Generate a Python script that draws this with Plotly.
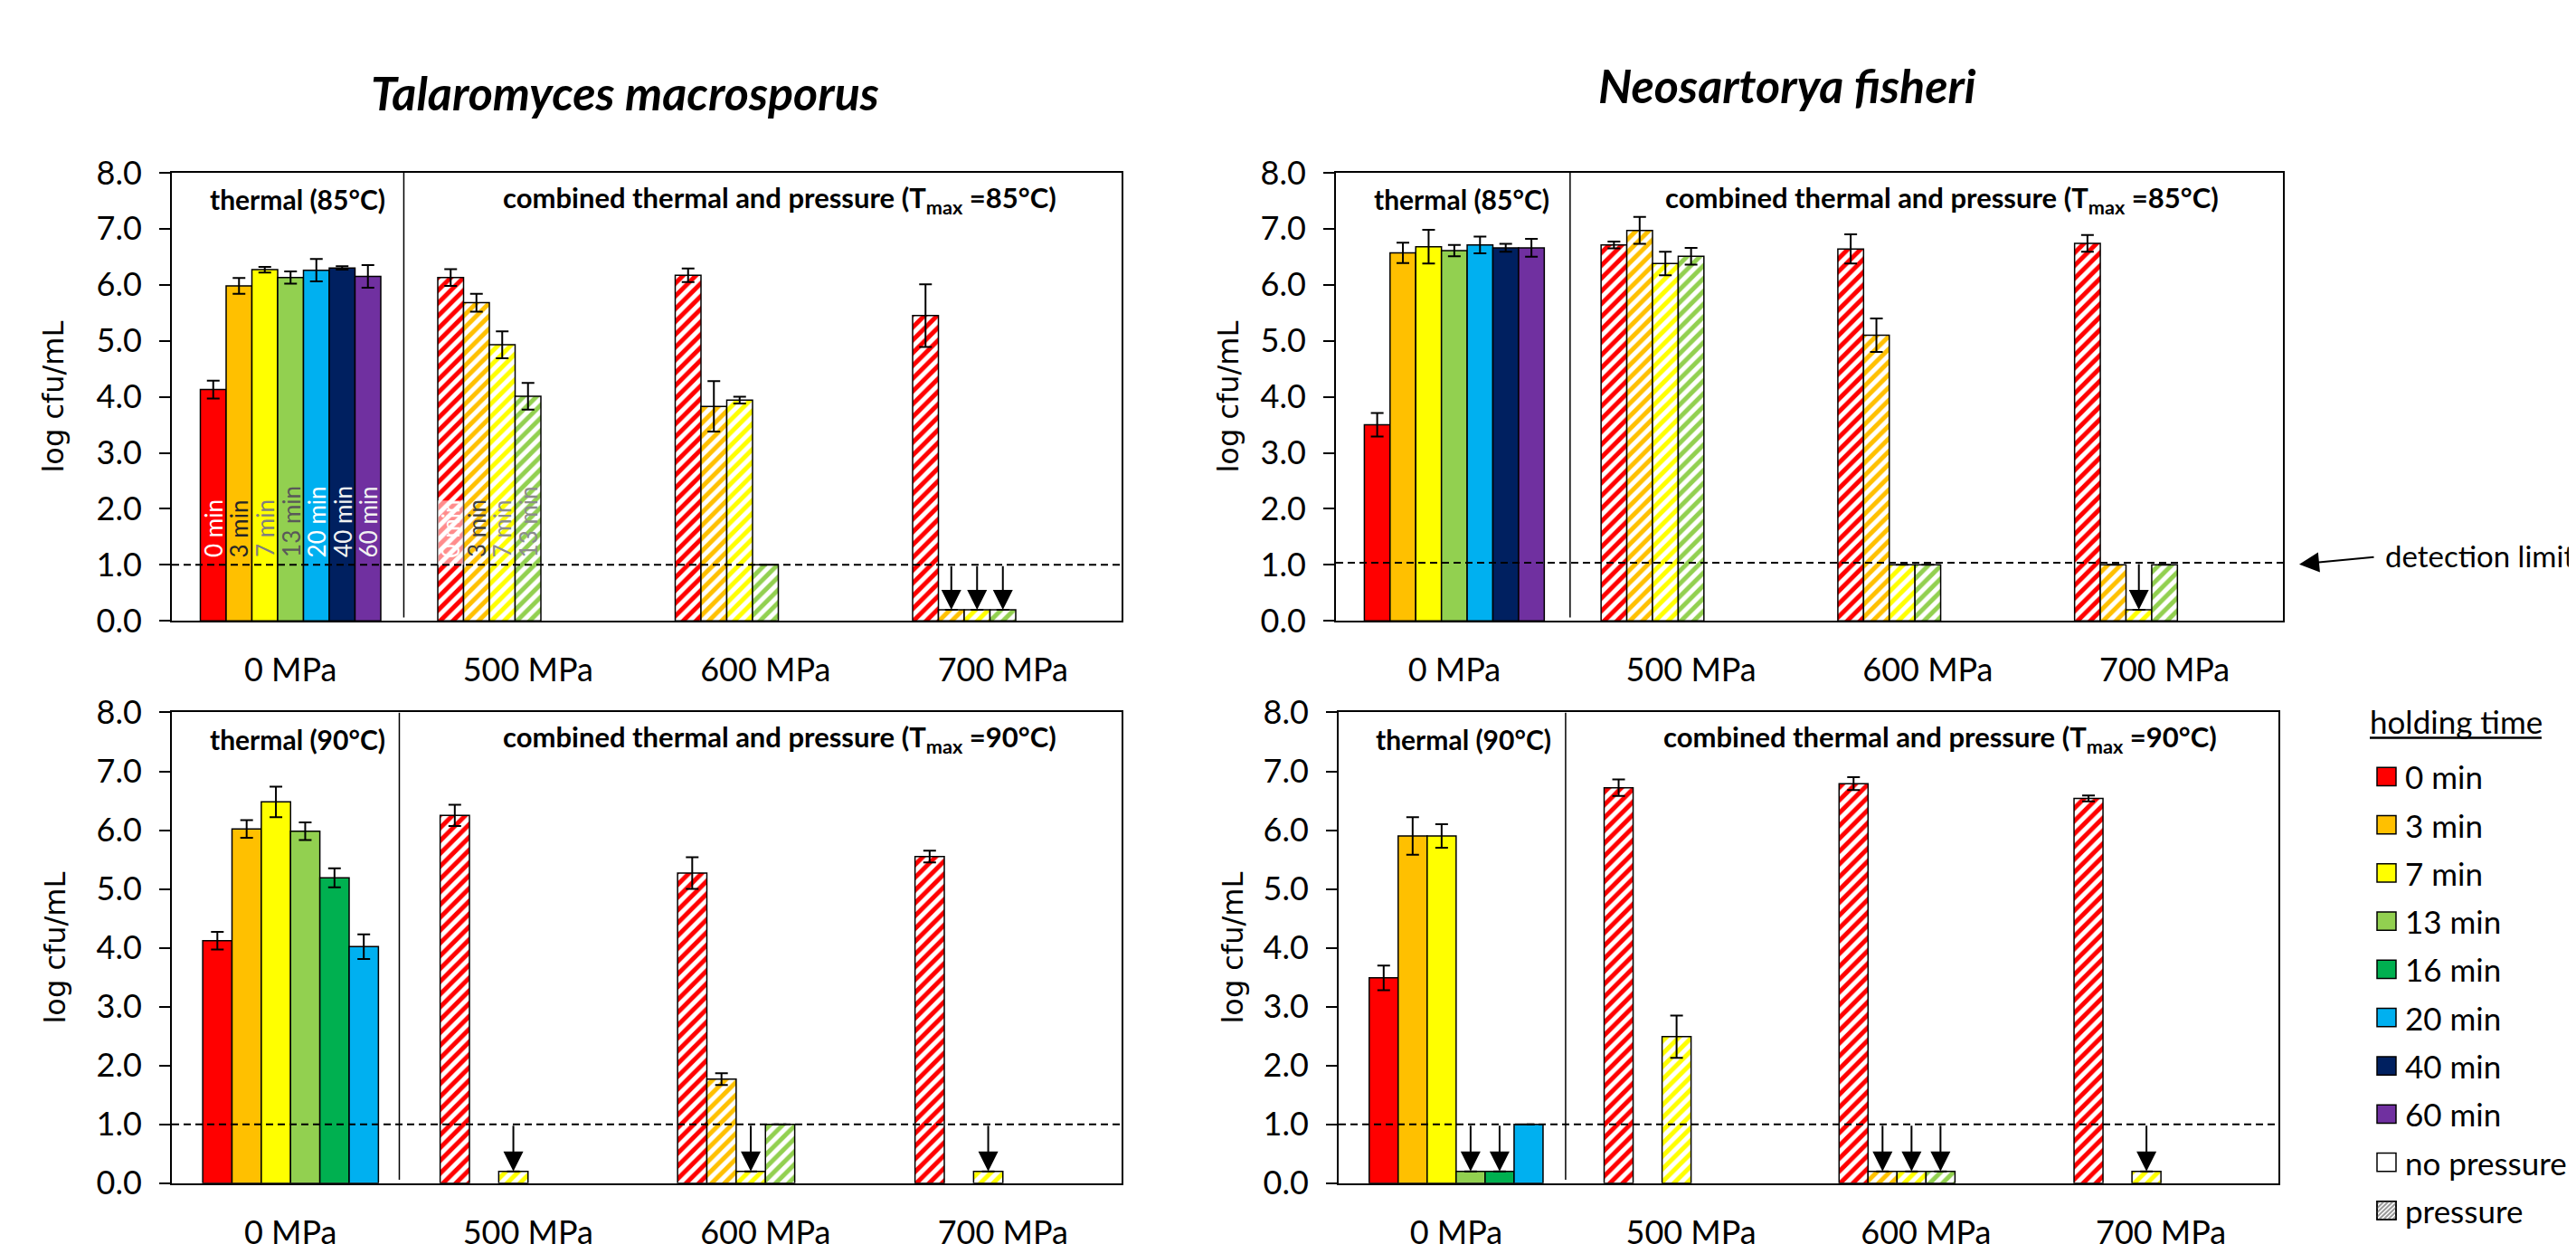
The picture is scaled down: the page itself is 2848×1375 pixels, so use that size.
import plotly.graph_objects as go

# ---------------------------------------------------------------- data
CATEGORIES = ["0 MPa", "500 MPa", "600 MPa", "700 MPa"]
TIMES_85 = ["0 min", "3 min", "7 min", "13 min", "20 min", "40 min", "60 min"]
TIMES_90 = ["0 min", "3 min", "7 min", "13 min", "16 min", "20 min"]
LEGEND_TIMES = ["0 min", "3 min", "7 min", "13 min", "16 min", "20 min", "40 min", "60 min"]
TIME_COLORS = ["#FF0000", "#FFC000", "#FFFF00", "#92D050", "#00B050", "#00B0F0", "#002060", "#7030A0"]

BELOW_LIMIT = 0.2  # plotted value for counts below the detection limit

# Talaromyces macrosporus, 85 °C
TM85_THERMAL = [4.13, 5.98, 6.27, 6.13, 6.26, 6.30, 6.15]
TM85_THERMAL_SD = [0.16, 0.14, 0.05, 0.11, 0.20, 0.03, 0.20]
TM85_P500 = [6.13, 5.68, 4.93, 4.01]
TM85_P500_SD = [0.15, 0.16, 0.24, 0.24]
TM85_P600 = [6.17, 3.83, 3.94, 1.00]
TM85_P600_SD = [0.12, 0.45, 0.06, 0]
TM85_P700 = [5.45, 0.20, 0.20, 0.20]
TM85_P700_SD = [0.56, 0, 0, 0]

# Neosartorya fisheri, 85 °C
NF85_THERMAL = [3.50, 6.57, 6.68, 6.61, 6.71, 6.66, 6.66]
NF85_THERMAL_SD = [0.21, 0.18, 0.30, 0.10, 0.15, 0.07, 0.16]
NF85_P500 = [6.71, 6.97, 6.38, 6.51]
NF85_P500_SD = [0.06, 0.24, 0.21, 0.15]
NF85_P600 = [6.64, 5.10, 1.00, 1.00]
NF85_P600_SD = [0.26, 0.30, 0, 0]
NF85_P700 = [6.74, 1.00, 0.20, 1.00]
NF85_P700_SD = [0.15, 0, 0, 0]

# Talaromyces macrosporus, 90 °C
TM90_THERMAL = [4.12, 6.02, 6.48, 5.98, 5.19, 4.02]
TM90_THERMAL_SD = [0.15, 0.15, 0.26, 0.15, 0.16, 0.21]
TM90_P500 = [6.25, None, 0.20, None]
TM90_P500_SD = [0.18, 0, 0, 0]
TM90_P600 = [5.27, 1.77, 0.20, 1.00]
TM90_P600_SD = [0.27, 0.10, 0, 0]
TM90_P700 = [5.55, None, 0.20, None]
TM90_P700_SD = [0.10, 0, 0, 0]

# Neosartorya fisheri, 90 °C
NF90_THERMAL = [3.49, 5.90, 5.90, 0.20, 0.20, 1.00]
NF90_THERMAL_SD = [0.21, 0.32, 0.20, 0, 0, 0]
NF90_P500 = [6.72, None, 2.49, None]
NF90_P500_SD = [0.14, 0, 0.36, 0]
NF90_P600 = [6.79, 0.20, 0.20, 0.20]
NF90_P600_SD = [0.11, 0, 0, 0]
NF90_P700 = [6.54, None, 0.20, None]
NF90_P700_SD = [0.05, 0, 0, 0]

# in-bar labels (top-left panel only)
THERMAL_LABEL_COLORS = ["#FFFFFF", "#262626", "#7F7F7F", "#595959", "#FFFFFF", "#F2F2F2", "#F2F2F2"]
PRESSURE_LABEL_COLORS = ["#FFFFFF", "#404040", "#8C8C8C", "#8C8C8C"]

# ---------------------------------------------------------------- geometry
W, H = 2848, 1375
FONT = "Lato"


def px(x):
    return x / W


def py(y):
    return 1 - y / H


COLOR_OF = dict(zip(LEGEND_TIMES, TIME_COLORS))

PANELS = [
    dict(x0=182, x1=1232, y0=166, y1=680, times=TIMES_85, thermal=TM85_THERMAL, thermal_sd=TM85_THERMAL_SD,
         pressure=[TM85_P500, TM85_P600, TM85_P700], pressure_sd=[TM85_P500_SD, TM85_P600_SD, TM85_P700_SD],
         temp="85", dl=1.0, divider=0.477, standoff=26, gw=0.76, labels=True),
    dict(x0=1469, x1=2516, y0=166, y1=680, times=TIMES_85, thermal=NF85_THERMAL, thermal_sd=NF85_THERMAL_SD,
         pressure=[NF85_P500, NF85_P600, NF85_P700], pressure_sd=[NF85_P500_SD, NF85_P600_SD, NF85_P700_SD],
         temp="85", dl=1.04, divider=0.489, standoff=14, gw=0.76, labels=False),
    dict(x0=182, x1=1232, y0=785, y1=1325, times=TIMES_90, thermal=TM90_THERMAL, thermal_sd=TM90_THERMAL_SD,
         pressure=[TM90_P500, TM90_P600, TM90_P700], pressure_sd=[TM90_P500_SD, TM90_P600_SD, TM90_P700_SD],
         temp="90", dl=1.0, divider=0.458, standoff=24, gw=0.74, labels=False),
    dict(x0=1472, x1=2511, y0=785, y1=1325, times=TIMES_90, thermal=NF90_THERMAL, thermal_sd=NF90_THERMAL_SD,
         pressure=[NF90_P500, NF90_P600, NF90_P700], pressure_sd=[NF90_P500_SD, NF90_P600_SD, NF90_P700_SD],
         temp="90", dl=1.0, divider=0.466, standoff=12, gw=0.74, labels=False),
]

fig = go.Figure()
shapes = []
annotations = []
layout = dict(
    width=W, height=H, margin=dict(l=0, r=0, t=0, b=0),
    paper_bgcolor="white", plot_bgcolor="white",
    barmode="overlay", showlegend=False,
    font=dict(family=FONT, color="black"),
)

for k, p in enumerate(PANELS):
    sfx = "" if k == 0 else str(k + 1)
    xa, ya = "x" + sfx, "y" + sfx
    layout["xaxis" + sfx] = dict(
        domain=[px(p["x0"]), px(p["x1"])], range=[-0.5, 3.5], anchor=ya,
        tickmode="array", tickvals=[0, 1, 2, 3], ticktext=CATEGORIES,
        ticks="outside", ticklen=22, tickcolor="rgba(0,0,0,0)",
        showline=True, linecolor="black", linewidth=2, mirror=True,
        showgrid=False, zeroline=False, tickfont=dict(family=FONT, size=36),
        fixedrange=True,
    )
    layout["yaxis" + sfx] = dict(
        domain=[py(p["y1"]), py(p["y0"])], range=[0, 8], anchor=xa,
        tick0=0, dtick=1, tickformat=".1f", ticks="outside", ticklen=12, tickwidth=2,
        tickcolor="black", showline=True, linecolor="black", linewidth=2, mirror=True,
        showgrid=False, zeroline=False, tickfont=dict(family=FONT, size=36),
        ticklabelstandoff=12, fixedrange=True,
        title=dict(text="log cfu/mL", font=dict(family="DejaVu Sans", size=32), standoff=p["standoff"]),
    )

    times = p["times"]
    n = len(times)
    gw = p["gw"]
    slot = gw / n
    for i, t in enumerate(times):
        col = COLOR_OF[t]
        ys = [p["thermal"][i]] + [pl[i] if i < len(pl) else None for pl in p["pressure"]]
        sds = [p["thermal_sd"][i]] + [ps[i] if i < len(ps) else 0 for ps in p["pressure_sd"]]
        off = -gw / 2 + i * slot
        fig.add_trace(go.Bar(
            x=[0, 1, 2, 3], y=ys, offset=off, width=slot, xaxis=xa, yaxis=ya,
            marker=dict(
                color=col, line=dict(color="black", width=1.5),
                pattern=dict(shape=["", "/", "/", "/"], fgcolor=col,
                             bgcolor=[col, "white", "white", "white"],
                             size=10, solidity=0.5, fillmode="replace"),
            ),
            error_y=dict(type="data", array=sds, visible=True, color="black", thickness=2, width=7),
            showlegend=False, hoverinfo="skip",
        ))
        # arrows for counts below the detection limit
        for c, v in enumerate(ys):
            if v is not None and v == BELOW_LIMIT:
                xc = c + off + slot / 2
                annotations.append(dict(
                    x=xc, y=v, ax=xc, ay=p["dl"], xref=xa, yref=ya, axref=xa, ayref=ya,
                    text="", showarrow=True, arrowhead=2, arrowsize=2.2, arrowwidth=2,
                    arrowcolor="black", standoff=0, startstandoff=0,
                ))
        # rotated holding-time labels inside the bars (top-left panel)
        if p["labels"]:
            annotations.append(dict(
                x=off + slot / 2, y=1.1, xref=xa, yref=ya, text=t, textangle=-90,
                showarrow=False, xanchor="center", yanchor="bottom",
                font=dict(family=FONT, size=26, color=THERMAL_LABEL_COLORS[i]),
            ))
            if i < len(p["pressure"][0]):
                if i == 0:
                    shapes.append(dict(type="rect", xref=xa, yref=ya, x0=1 + off, x1=1 + off + slot,
                                       y0=1.0, y1=2.15, fillcolor="rgba(255,255,255,0.55)",
                                       line=dict(width=0), layer="above"))
                annotations.append(dict(
                    x=1 + off + slot / 2, y=1.1, xref=xa, yref=ya, text=t, textangle=-90,
                    showarrow=False, xanchor="center", yanchor="bottom",
                    font=dict(family=FONT, size=26, color=PRESSURE_LABEL_COLORS[i]),
                ))

    # detection limit
    shapes.append(dict(type="line", xref=xa, yref=ya, x0=-0.5, x1=3.5, y0=p["dl"], y1=p["dl"],
                       line=dict(color="black", width=2, dash="8px,5px"), layer="above"))
    # divider thermal / combined
    shapes.append(dict(type="line", xref=xa, yref=ya, x0=p["divider"], x1=p["divider"], y0=0.06, y1=8,
                       line=dict(color="black", width=1.5)))
    # section headers
    yl = 7.53 if p["temp"] == "85" else 7.55
    annotations.append(dict(x=0.03, y=yl, xref=xa, yref=ya, showarrow=False,
                            text="<b>thermal (%s°C)</b>" % p["temp"],
                            font=dict(family=FONT, size=30), xanchor="center", yanchor="middle"))
    annotations.append(dict(x=2.06, y=yl, xref=xa, yref=ya, showarrow=False,
                            text="<b>combined thermal and pressure (T<sub>max</sub> =%s°C)</b>" % p["temp"],
                            font=dict(family=FONT, size=31), xanchor="center", yanchor="middle"))

# panel titles
annotations.append(dict(x=px(683), y=py(74), xref="paper", yref="paper", showarrow=False,
                        text="<b><i>Talaromyces macrosporus</i></b>", font=dict(family=FONT, size=52),
                        xanchor="center", yanchor="middle"))
annotations.append(dict(x=px(1968), y=py(65), xref="paper", yref="paper", showarrow=False,
                        text="<b><i>Neosartorya fisheri</i></b>", font=dict(family=FONT, size=52),
                        xanchor="center", yanchor="middle"))

# detection limit callout
annotations.append(dict(x=px(2534), y=py(615), xref="paper", yref="paper", ax=84, ay=-8,
                        text="", showarrow=True, arrowhead=2, arrowsize=2.2, arrowwidth=2,
                        arrowcolor="black", standoff=0))
annotations.append(dict(x=px(2627), y=py(605), xref="paper", yref="paper", showarrow=False,
                        text="detection limit", font=dict(family=FONT, size=33),
                        xanchor="left", yanchor="middle"))

# legend (drawn manually)
annotations.append(dict(x=px(2610), y=py(795), xref="paper", yref="paper", showarrow=False,
                        text="holding time", font=dict(family=FONT, size=35),
                        xanchor="left", yanchor="middle"))
shapes.append(dict(type="line", xref="paper", yref="paper", x0=px(2612), x1=px(2802),
                   y0=py(814), y1=py(814), line=dict(color="black", width=2.5)))

legend_labels = LEGEND_TIMES + ["no pressure", "pressure"]
legend_fills = TIME_COLORS + ["white", "white"]
SW = 21
for j, (lab, fc) in enumerate(zip(legend_labels, legend_fills)):
    yc = 858.5 + j * 55.3
    sx0, sx1, sy0, sy1 = 2620, 2620 + SW, yc - SW / 2, yc + SW / 2
    shapes.append(dict(type="rect", xref="paper", yref="paper", x0=px(sx0), x1=px(sx1),
                       y0=py(sy1), y1=py(sy0), fillcolor=fc, line=dict(color="black", width=1.5)))
    if lab == "pressure":
        for kk in range(-18, 21, 5):
            if kk >= 0:
                a = (kk, 0); b = (SW, SW - kk)
            else:
                a = (0, -kk); b = (SW + kk, SW)
            shapes.append(dict(type="line", xref="paper", yref="paper",
                               x0=px(sx0 + a[0]), y0=py(sy1 - a[1]), x1=px(sx0 + b[0]), y1=py(sy1 - b[1]),
                               line=dict(color="#9A9A9A", width=2)))
        shapes.append(dict(type="rect", xref="paper", yref="paper", x0=px(sx0), x1=px(sx1),
                           y0=py(sy1), y1=py(sy0), line=dict(color="black", width=1.5)))
    annotations.append(dict(x=px(2649), y=py(yc), xref="paper", yref="paper", showarrow=False,
                            text=lab, font=dict(family=FONT, size=35), xanchor="left", yanchor="middle"))

layout["shapes"] = shapes
layout["annotations"] = annotations
fig.update_layout(**layout)
fig.write_html("out.html")
